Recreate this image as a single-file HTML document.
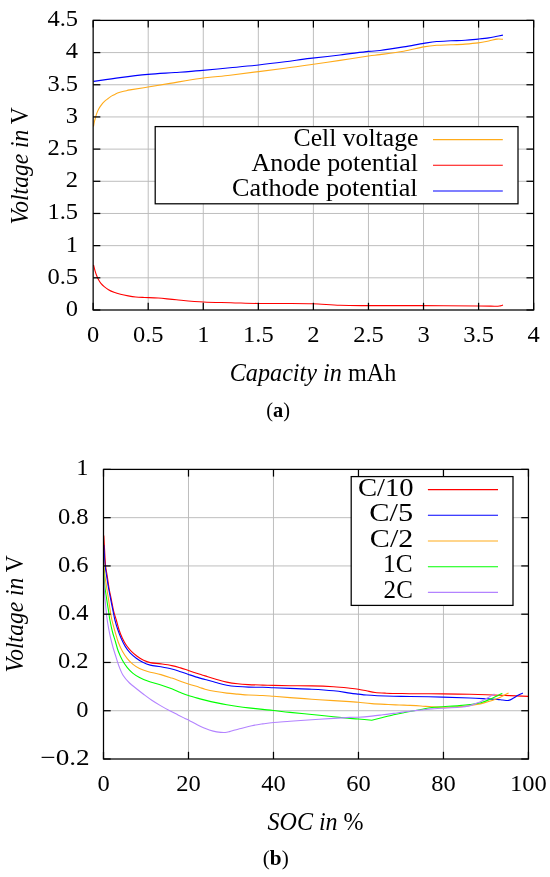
<!DOCTYPE html>
<html><head><meta charset="utf-8"><style>
html,body{margin:0;padding:0;background:#fff;width:550px;height:877px;overflow:hidden}
svg{display:block;font-family:'Liberation Serif',serif;will-change:transform}
text{fill:#000}
</style></head><body>
<svg width="550" height="877" viewBox="0 0 550 877" font-family="'Liberation Serif', serif">
<rect width="550" height="877" fill="#fff"/>
<line x1="148.21" y1="20.40" x2="148.21" y2="310.00" stroke="#bababa" stroke-width="0.95"/>
<line x1="203.28" y1="20.40" x2="203.28" y2="310.00" stroke="#bababa" stroke-width="0.95"/>
<line x1="258.34" y1="20.40" x2="258.34" y2="310.00" stroke="#bababa" stroke-width="0.95"/>
<line x1="313.40" y1="20.40" x2="313.40" y2="310.00" stroke="#bababa" stroke-width="0.95"/>
<line x1="368.46" y1="20.40" x2="368.46" y2="310.00" stroke="#bababa" stroke-width="0.95"/>
<line x1="423.52" y1="20.40" x2="423.52" y2="310.00" stroke="#bababa" stroke-width="0.95"/>
<line x1="478.59" y1="20.40" x2="478.59" y2="310.00" stroke="#bababa" stroke-width="0.95"/>
<line x1="93.15" y1="277.82" x2="533.65" y2="277.82" stroke="#bababa" stroke-width="0.95"/>
<line x1="93.15" y1="245.64" x2="533.65" y2="245.64" stroke="#bababa" stroke-width="0.95"/>
<line x1="93.15" y1="213.47" x2="533.65" y2="213.47" stroke="#bababa" stroke-width="0.95"/>
<line x1="93.15" y1="181.29" x2="533.65" y2="181.29" stroke="#bababa" stroke-width="0.95"/>
<line x1="93.15" y1="149.11" x2="533.65" y2="149.11" stroke="#bababa" stroke-width="0.95"/>
<line x1="93.15" y1="116.93" x2="533.65" y2="116.93" stroke="#bababa" stroke-width="0.95"/>
<line x1="93.15" y1="84.76" x2="533.65" y2="84.76" stroke="#bababa" stroke-width="0.95"/>
<line x1="93.15" y1="52.58" x2="533.65" y2="52.58" stroke="#bababa" stroke-width="0.95"/>
<path d="M93.50,81.40 C97.92,80.77 110.92,78.77 120.00,77.60 C129.08,76.43 138.83,75.25 148.00,74.40 C157.17,73.55 166.33,73.13 175.00,72.50 C183.67,71.87 190.83,71.38 200.00,70.60 C209.17,69.82 220.23,68.73 230.00,67.80 C239.77,66.87 249.43,66.00 258.60,65.00 C267.77,64.00 276.43,62.90 285.00,61.80 C293.57,60.70 300.83,59.53 310.00,58.40 C319.17,57.27 330.27,56.17 340.00,55.00 C349.73,53.83 361.73,52.15 368.40,51.40 C375.07,50.65 374.13,51.25 380.00,50.50 C385.87,49.75 396.32,48.08 403.60,46.90 C410.88,45.72 418.18,44.30 423.70,43.40 C429.22,42.50 432.17,41.93 436.70,41.50 C441.23,41.07 446.17,41.00 450.90,40.80 C455.63,40.60 460.57,40.58 465.10,40.30 C469.63,40.02 474.17,39.50 478.10,39.10 C482.03,38.70 485.75,38.33 488.70,37.90 C491.65,37.47 493.43,36.97 495.80,36.50 C498.17,36.03 501.72,35.33 502.90,35.10" fill="none" stroke="#0000ff" stroke-width="1.1"/>
<path d="M93.50,126.50 C93.63,125.75 94.03,123.22 94.30,122.00 C94.57,120.78 94.73,120.52 95.10,119.20 C95.47,117.88 95.90,115.80 96.50,114.10 C97.10,112.40 97.85,110.58 98.70,109.00 C99.55,107.42 100.63,105.87 101.60,104.60 C102.57,103.33 103.40,102.42 104.50,101.40 C105.60,100.38 106.98,99.42 108.20,98.50 C109.42,97.58 110.58,96.63 111.80,95.90 C113.02,95.17 114.28,94.65 115.50,94.10 C116.72,93.55 117.90,93.03 119.10,92.60 C120.30,92.17 121.48,91.82 122.70,91.50 C123.92,91.18 125.18,90.97 126.40,90.70 C127.62,90.43 126.40,90.52 130.00,89.90 C133.60,89.28 141.33,88.08 148.00,87.00 C154.67,85.92 161.33,84.82 170.00,83.40 C178.67,81.98 190.00,79.87 200.00,78.50 C210.00,77.13 220.23,76.35 230.00,75.20 C239.77,74.05 249.43,72.75 258.60,71.60 C267.77,70.45 276.43,69.45 285.00,68.30 C293.57,67.15 300.83,66.02 310.00,64.70 C319.17,63.38 330.27,61.85 340.00,60.40 C349.73,58.95 361.73,56.97 368.40,56.00 C375.07,55.03 374.13,55.40 380.00,54.60 C385.87,53.80 396.32,52.48 403.60,51.20 C410.88,49.92 418.18,47.88 423.70,46.90 C429.22,45.92 432.17,45.65 436.70,45.30 C441.23,44.95 446.17,45.00 450.90,44.80 C455.63,44.60 460.57,44.42 465.10,44.10 C469.63,43.78 474.17,43.42 478.10,42.90 C482.03,42.38 485.55,41.63 488.70,41.00 C491.85,40.37 494.62,39.38 497.00,39.10 C499.38,38.82 502.00,39.27 503.00,39.30" fill="none" stroke="#ffab1a" stroke-width="1.1"/>
<path d="M93.50,264.80 C93.73,265.72 94.40,268.57 94.90,270.30 C95.40,272.03 95.87,273.57 96.50,275.20 C97.13,276.83 97.97,278.73 98.70,280.10 C99.43,281.47 99.98,282.32 100.90,283.40 C101.82,284.48 102.93,285.55 104.20,286.60 C105.47,287.65 106.87,288.75 108.50,289.70 C110.13,290.65 112.00,291.53 114.00,292.30 C116.00,293.07 118.13,293.70 120.50,294.30 C122.87,294.90 125.65,295.45 128.20,295.90 C130.75,296.35 133.08,296.73 135.80,297.00 C138.52,297.27 140.77,297.33 144.50,297.50 C148.23,297.67 152.88,297.62 158.20,298.00 C163.52,298.38 168.83,299.13 176.40,299.80 C183.97,300.47 194.52,301.52 203.60,302.00 C212.68,302.48 221.80,302.45 230.90,302.70 C240.00,302.95 249.10,303.37 258.20,303.50 C267.30,303.63 276.42,303.45 285.50,303.50 C294.58,303.55 303.62,303.50 312.70,303.80 C321.78,304.10 330.68,305.00 340.00,305.30 C349.32,305.60 355.27,305.55 368.60,305.60 C381.93,305.65 401.67,305.53 420.00,305.60 C438.33,305.67 466.10,305.90 478.60,306.00 C491.10,306.10 491.43,306.22 495.00,306.20 C498.57,306.18 498.67,306.10 500.00,305.90 C501.33,305.70 502.50,305.15 503.00,305.00" fill="none" stroke="#ff0000" stroke-width="1.1"/>
<line x1="93.15" y1="310.00" x2="93.15" y2="302.80" stroke="#000" stroke-width="1.25"/>
<line x1="93.15" y1="20.40" x2="93.15" y2="27.60" stroke="#000" stroke-width="1.25"/>
<line x1="148.21" y1="310.00" x2="148.21" y2="302.80" stroke="#000" stroke-width="1.25"/>
<line x1="148.21" y1="20.40" x2="148.21" y2="27.60" stroke="#000" stroke-width="1.25"/>
<line x1="203.28" y1="310.00" x2="203.28" y2="302.80" stroke="#000" stroke-width="1.25"/>
<line x1="203.28" y1="20.40" x2="203.28" y2="27.60" stroke="#000" stroke-width="1.25"/>
<line x1="258.34" y1="310.00" x2="258.34" y2="302.80" stroke="#000" stroke-width="1.25"/>
<line x1="258.34" y1="20.40" x2="258.34" y2="27.60" stroke="#000" stroke-width="1.25"/>
<line x1="313.40" y1="310.00" x2="313.40" y2="302.80" stroke="#000" stroke-width="1.25"/>
<line x1="313.40" y1="20.40" x2="313.40" y2="27.60" stroke="#000" stroke-width="1.25"/>
<line x1="368.46" y1="310.00" x2="368.46" y2="302.80" stroke="#000" stroke-width="1.25"/>
<line x1="368.46" y1="20.40" x2="368.46" y2="27.60" stroke="#000" stroke-width="1.25"/>
<line x1="423.52" y1="310.00" x2="423.52" y2="302.80" stroke="#000" stroke-width="1.25"/>
<line x1="423.52" y1="20.40" x2="423.52" y2="27.60" stroke="#000" stroke-width="1.25"/>
<line x1="478.59" y1="310.00" x2="478.59" y2="302.80" stroke="#000" stroke-width="1.25"/>
<line x1="478.59" y1="20.40" x2="478.59" y2="27.60" stroke="#000" stroke-width="1.25"/>
<line x1="533.65" y1="310.00" x2="533.65" y2="302.80" stroke="#000" stroke-width="1.25"/>
<line x1="533.65" y1="20.40" x2="533.65" y2="27.60" stroke="#000" stroke-width="1.25"/>
<line x1="93.15" y1="310.00" x2="100.35" y2="310.00" stroke="#000" stroke-width="1.25"/>
<line x1="533.65" y1="310.00" x2="526.45" y2="310.00" stroke="#000" stroke-width="1.25"/>
<line x1="93.15" y1="277.82" x2="100.35" y2="277.82" stroke="#000" stroke-width="1.25"/>
<line x1="533.65" y1="277.82" x2="526.45" y2="277.82" stroke="#000" stroke-width="1.25"/>
<line x1="93.15" y1="245.64" x2="100.35" y2="245.64" stroke="#000" stroke-width="1.25"/>
<line x1="533.65" y1="245.64" x2="526.45" y2="245.64" stroke="#000" stroke-width="1.25"/>
<line x1="93.15" y1="213.47" x2="100.35" y2="213.47" stroke="#000" stroke-width="1.25"/>
<line x1="533.65" y1="213.47" x2="526.45" y2="213.47" stroke="#000" stroke-width="1.25"/>
<line x1="93.15" y1="181.29" x2="100.35" y2="181.29" stroke="#000" stroke-width="1.25"/>
<line x1="533.65" y1="181.29" x2="526.45" y2="181.29" stroke="#000" stroke-width="1.25"/>
<line x1="93.15" y1="149.11" x2="100.35" y2="149.11" stroke="#000" stroke-width="1.25"/>
<line x1="533.65" y1="149.11" x2="526.45" y2="149.11" stroke="#000" stroke-width="1.25"/>
<line x1="93.15" y1="116.93" x2="100.35" y2="116.93" stroke="#000" stroke-width="1.25"/>
<line x1="533.65" y1="116.93" x2="526.45" y2="116.93" stroke="#000" stroke-width="1.25"/>
<line x1="93.15" y1="84.76" x2="100.35" y2="84.76" stroke="#000" stroke-width="1.25"/>
<line x1="533.65" y1="84.76" x2="526.45" y2="84.76" stroke="#000" stroke-width="1.25"/>
<line x1="93.15" y1="52.58" x2="100.35" y2="52.58" stroke="#000" stroke-width="1.25"/>
<line x1="533.65" y1="52.58" x2="526.45" y2="52.58" stroke="#000" stroke-width="1.25"/>
<line x1="93.15" y1="20.40" x2="100.35" y2="20.40" stroke="#000" stroke-width="1.25"/>
<line x1="533.65" y1="20.40" x2="526.45" y2="20.40" stroke="#000" stroke-width="1.25"/>
<rect x="93.15" y="20.40" width="440.50" height="289.60" fill="none" stroke="#000" stroke-width="1.25"/>
<rect x="155.2" y="126.6" width="362.8" height="77.2" fill="#fff" stroke="#000" stroke-width="1.25"/>
<text x="418.45" y="145.60" font-size="24.2" text-anchor="end" textLength="124.96" lengthAdjust="spacingAndGlyphs" >Cell voltage</text>
<line x1="433" y1="139.60" x2="502.8" y2="139.60" stroke="#ffab1a" stroke-width="1.1"/>
<text x="417.95" y="170.80" font-size="24.2" text-anchor="end" textLength="166.48" lengthAdjust="spacingAndGlyphs" >Anode potential</text>
<line x1="433" y1="165.30" x2="502.8" y2="165.30" stroke="#ff0000" stroke-width="1.1"/>
<text x="417.55" y="196.40" font-size="24.2" text-anchor="end" textLength="185.50" lengthAdjust="spacingAndGlyphs" >Cathode potential</text>
<line x1="433" y1="191.00" x2="502.8" y2="191.00" stroke="#0000ff" stroke-width="1.1"/>
<text transform="translate(78.00,315.90) scale(1.0560,1)" font-size="23.2" text-anchor="end">0</text>
<text transform="translate(78.00,283.72) scale(1.0560,1)" font-size="23.2" text-anchor="end">0.5</text>
<text transform="translate(78.00,251.54) scale(1.0560,1)" font-size="23.2" text-anchor="end">1</text>
<text transform="translate(78.00,219.37) scale(1.0560,1)" font-size="23.2" text-anchor="end">1.5</text>
<text transform="translate(78.00,187.19) scale(1.0560,1)" font-size="23.2" text-anchor="end">2</text>
<text transform="translate(78.00,155.01) scale(1.0560,1)" font-size="23.2" text-anchor="end">2.5</text>
<text transform="translate(78.00,122.83) scale(1.0560,1)" font-size="23.2" text-anchor="end">3</text>
<text transform="translate(78.00,90.66) scale(1.0560,1)" font-size="23.2" text-anchor="end">3.5</text>
<text transform="translate(78.00,58.48) scale(1.0560,1)" font-size="23.2" text-anchor="end">4</text>
<text transform="translate(78.00,26.30) scale(1.0560,1)" font-size="23.2" text-anchor="end">4.5</text>
<text transform="translate(93.15,341.50) scale(1.0560,1)" font-size="23.2" text-anchor="middle">0</text>
<text transform="translate(148.21,341.50) scale(1.0560,1)" font-size="23.2" text-anchor="middle">0.5</text>
<text transform="translate(203.28,341.50) scale(1.0560,1)" font-size="23.2" text-anchor="middle">1</text>
<text transform="translate(258.34,341.50) scale(1.0560,1)" font-size="23.2" text-anchor="middle">1.5</text>
<text transform="translate(313.40,341.50) scale(1.0560,1)" font-size="23.2" text-anchor="middle">2</text>
<text transform="translate(368.46,341.50) scale(1.0560,1)" font-size="23.2" text-anchor="middle">2.5</text>
<text transform="translate(423.52,341.50) scale(1.0560,1)" font-size="23.2" text-anchor="middle">3</text>
<text transform="translate(478.59,341.50) scale(1.0560,1)" font-size="23.2" text-anchor="middle">3.5</text>
<text transform="translate(533.65,341.50) scale(1.0560,1)" font-size="23.2" text-anchor="middle">4</text>
<text x="229.75" y="381.20" font-size="24.2" text-anchor="start" textLength="166.51" lengthAdjust="spacingAndGlyphs" ><tspan font-style="italic">Capacity in</tspan> mAh</text>
<text transform="translate(28.10,165.90) rotate(-90)" x="0" y="0" font-size="24.2" text-anchor="middle" textLength="117.06" lengthAdjust="spacingAndGlyphs" ><tspan font-style="italic">Voltage in</tspan> V</text>
<text x="278.05" y="417.20" font-size="22" text-anchor="middle" textLength="23.76" lengthAdjust="spacingAndGlyphs" >(<tspan font-weight="bold">a</tspan>)</text>
<line x1="188.49" y1="469.40" x2="188.49" y2="759.00" stroke="#bababa" stroke-width="0.95"/>
<line x1="273.48" y1="469.40" x2="273.48" y2="759.00" stroke="#bababa" stroke-width="0.95"/>
<line x1="358.47" y1="469.40" x2="358.47" y2="759.00" stroke="#bababa" stroke-width="0.95"/>
<line x1="443.46" y1="469.40" x2="443.46" y2="759.00" stroke="#bababa" stroke-width="0.95"/>
<line x1="103.50" y1="710.73" x2="528.45" y2="710.73" stroke="#bababa" stroke-width="0.95"/>
<line x1="103.50" y1="662.47" x2="528.45" y2="662.47" stroke="#bababa" stroke-width="0.95"/>
<line x1="103.50" y1="614.20" x2="528.45" y2="614.20" stroke="#bababa" stroke-width="0.95"/>
<line x1="103.50" y1="565.93" x2="528.45" y2="565.93" stroke="#bababa" stroke-width="0.95"/>
<line x1="103.50" y1="517.67" x2="528.45" y2="517.67" stroke="#bababa" stroke-width="0.95"/>
<defs><clipPath id="c2"><rect x="103.5" y="469.4" width="424.95000000000005" height="289.6"/></clipPath></defs>
<g clip-path="url(#c2)">
<path d="M103.80,535.50 C103.93,537.92 104.30,544.97 104.60,550.00 C104.90,555.03 105.13,561.18 105.60,565.70 C106.07,570.22 106.82,573.30 107.40,577.10 C107.98,580.90 108.43,584.70 109.10,588.50 C109.77,592.30 110.63,596.10 111.40,599.90 C112.17,603.70 112.88,607.95 113.70,611.30 C114.52,614.65 115.40,616.88 116.30,620.00 C117.20,623.12 118.08,626.97 119.10,630.00 C120.12,633.03 121.17,635.62 122.40,638.20 C123.63,640.78 125.00,643.32 126.50,645.50 C128.00,647.68 129.63,649.52 131.40,651.30 C133.17,653.08 135.07,654.70 137.10,656.20 C139.13,657.70 141.42,659.23 143.60,660.30 C145.78,661.37 147.32,662.00 150.20,662.60 C153.08,663.20 157.30,663.40 160.90,663.90 C164.50,664.40 168.53,664.93 171.80,665.60 C175.07,666.27 177.73,667.08 180.50,667.90 C183.27,668.72 185.30,669.47 188.40,670.50 C191.50,671.53 196.33,673.20 199.10,674.10 C201.87,675.00 202.20,675.05 205.00,675.90 C207.80,676.75 212.27,678.17 215.90,679.20 C219.53,680.23 223.17,681.33 226.80,682.10 C230.43,682.87 234.07,683.38 237.70,683.80 C241.33,684.22 244.43,684.38 248.60,684.60 C252.77,684.82 258.53,684.97 262.70,685.10 C266.87,685.23 269.05,685.30 273.60,685.40 C278.15,685.50 283.63,685.62 290.00,685.70 C296.37,685.78 304.53,685.72 311.80,685.90 C319.07,686.08 327.23,686.42 333.60,686.80 C339.97,687.18 345.87,687.80 350.00,688.20 C354.13,688.60 355.67,688.77 358.40,689.20 C361.13,689.63 363.62,690.25 366.40,690.80 C369.18,691.35 371.83,692.10 375.10,692.50 C378.37,692.90 382.00,693.03 386.00,693.20 C390.00,693.37 395.10,693.42 399.10,693.50 C403.10,693.58 402.73,693.63 410.00,693.70 C417.27,693.77 432.70,693.80 442.70,693.90 C452.70,694.00 460.45,694.08 470.00,694.30 C479.55,694.52 490.27,694.85 500.00,695.20 C509.73,695.55 523.67,696.20 528.40,696.40" fill="none" stroke="#ff0000" stroke-width="1.1"/>
<path d="M103.80,545.00 C103.93,547.50 104.38,556.55 104.60,560.00 C104.82,563.45 104.73,562.85 105.10,565.70 C105.47,568.55 106.22,573.30 106.80,577.10 C107.38,580.90 107.93,584.70 108.60,588.50 C109.27,592.30 110.05,596.10 110.80,599.90 C111.55,603.70 112.42,607.95 113.10,611.30 C113.78,614.65 114.10,616.88 114.90,620.00 C115.70,623.12 116.87,626.97 117.90,630.00 C118.93,633.03 119.88,635.47 121.10,638.20 C122.32,640.93 123.70,643.95 125.20,646.40 C126.70,648.85 128.25,650.93 130.10,652.90 C131.95,654.87 134.18,656.63 136.30,658.20 C138.42,659.77 140.48,661.15 142.80,662.30 C145.12,663.45 147.18,664.35 150.20,665.10 C153.22,665.85 157.30,666.15 160.90,666.80 C164.50,667.45 168.53,668.18 171.80,669.00 C175.07,669.82 177.73,670.80 180.50,671.70 C183.27,672.60 185.30,673.37 188.40,674.40 C191.50,675.43 196.33,677.05 199.10,677.90 C201.87,678.75 202.20,678.73 205.00,679.50 C207.80,680.27 212.27,681.55 215.90,682.50 C219.53,683.45 223.17,684.53 226.80,685.20 C230.43,685.87 234.07,686.18 237.70,686.50 C241.33,686.82 244.43,686.97 248.60,687.10 C252.77,687.23 258.53,687.18 262.70,687.30 C266.87,687.42 269.05,687.62 273.60,687.80 C278.15,687.98 283.63,688.17 290.00,688.40 C296.37,688.63 304.53,688.80 311.80,689.20 C319.07,689.60 327.23,690.15 333.60,690.80 C339.97,691.45 345.87,692.55 350.00,693.10 C354.13,693.65 355.67,693.78 358.40,694.10 C361.13,694.42 363.25,694.73 366.40,695.00 C369.55,695.27 372.77,695.48 377.30,695.70 C381.83,695.92 388.15,696.17 393.60,696.30 C399.05,696.43 401.82,696.37 410.00,696.50 C418.18,696.63 432.70,696.85 442.70,697.10 C452.70,697.35 462.72,697.72 470.00,698.00 C477.28,698.28 481.85,698.57 486.40,698.80 C490.95,699.03 494.58,699.20 497.30,699.40 C500.02,699.60 500.80,699.83 502.70,700.00 C504.60,700.17 506.88,700.73 508.70,700.40 C510.52,700.07 512.05,698.85 513.60,698.00 C515.15,697.15 516.45,696.12 518.00,695.30 C519.55,694.48 522.08,693.47 522.90,693.10" fill="none" stroke="#0000ff" stroke-width="1.1"/>
<path d="M103.50,555.00 C103.58,556.78 103.73,562.02 104.00,565.70 C104.27,569.38 104.63,573.30 105.10,577.10 C105.57,580.90 106.22,584.70 106.80,588.50 C107.38,592.30 108.02,596.10 108.60,599.90 C109.18,603.70 109.75,607.95 110.30,611.30 C110.85,614.65 111.12,616.63 111.90,620.00 C112.68,623.37 113.93,627.78 115.00,631.50 C116.07,635.22 117.07,639.00 118.30,642.30 C119.53,645.60 120.90,648.58 122.40,651.30 C123.90,654.02 125.53,656.42 127.30,658.60 C129.07,660.78 130.97,662.75 133.00,664.40 C135.03,666.05 137.05,667.32 139.50,668.50 C141.95,669.68 144.13,670.48 147.70,671.50 C151.27,672.52 156.88,673.50 160.90,674.60 C164.92,675.70 168.53,677.00 171.80,678.10 C175.07,679.20 177.73,680.23 180.50,681.20 C183.27,682.17 185.30,682.90 188.40,683.90 C191.50,684.90 196.33,686.32 199.10,687.20 C201.87,688.08 202.20,688.48 205.00,689.20 C207.80,689.92 212.27,690.85 215.90,691.50 C219.53,692.15 223.17,692.67 226.80,693.10 C230.43,693.53 234.07,693.78 237.70,694.10 C241.33,694.42 244.43,694.77 248.60,695.00 C252.77,695.23 258.53,695.28 262.70,695.50 C266.87,695.72 269.05,695.95 273.60,696.30 C278.15,696.65 283.63,697.12 290.00,697.60 C296.37,698.08 304.53,698.70 311.80,699.20 C319.07,699.70 327.23,700.20 333.60,700.60 C339.97,701.00 345.87,701.32 350.00,701.60 C354.13,701.88 354.77,701.97 358.40,702.30 C362.03,702.63 366.83,703.23 371.80,703.60 C376.77,703.97 383.65,704.27 388.20,704.50 C392.75,704.73 395.47,704.85 399.10,705.00 C402.73,705.15 406.37,705.23 410.00,705.40 C413.63,705.57 417.27,705.75 420.90,706.00 C424.53,706.25 428.17,706.70 431.80,706.90 C435.43,707.10 438.83,707.18 442.70,707.20 C446.57,707.22 450.78,707.22 455.00,707.00 C459.22,706.78 464.33,706.32 468.00,705.90 C471.67,705.48 474.33,705.00 477.00,704.50 C479.67,704.00 481.47,703.57 484.00,702.90 C486.53,702.23 489.47,701.43 492.20,700.50 C494.93,699.57 497.67,698.57 500.40,697.30 C503.13,696.03 507.23,693.63 508.60,692.90" fill="none" stroke="#ffab1a" stroke-width="1.1"/>
<path d="M103.50,565.00 C103.58,567.02 103.73,573.18 104.00,577.10 C104.27,581.02 104.63,584.70 105.10,588.50 C105.57,592.30 106.22,596.10 106.80,599.90 C107.38,603.70 108.08,607.95 108.60,611.30 C109.12,614.65 109.25,616.55 109.90,620.00 C110.55,623.45 111.58,628.42 112.50,632.00 C113.42,635.58 114.43,638.28 115.40,641.50 C116.37,644.72 117.13,648.17 118.30,651.30 C119.47,654.43 120.90,657.58 122.40,660.30 C123.90,663.02 125.53,665.42 127.30,667.60 C129.07,669.78 130.97,671.75 133.00,673.40 C135.03,675.05 137.05,676.22 139.50,677.50 C141.95,678.78 144.13,679.85 147.70,681.10 C151.27,682.35 156.88,683.72 160.90,685.00 C164.92,686.28 168.53,687.53 171.80,688.80 C175.07,690.07 177.73,691.47 180.50,692.60 C183.27,693.73 185.30,694.60 188.40,695.60 C191.50,696.60 196.33,697.85 199.10,698.60 C201.87,699.35 202.20,699.43 205.00,700.10 C207.80,700.77 212.27,701.82 215.90,702.60 C219.53,703.38 223.17,704.15 226.80,704.80 C230.43,705.45 234.07,705.98 237.70,706.50 C241.33,707.02 244.43,707.42 248.60,707.90 C252.77,708.38 258.53,708.97 262.70,709.40 C266.87,709.83 269.05,710.00 273.60,710.50 C278.15,711.00 283.63,711.73 290.00,712.40 C296.37,713.07 304.53,713.78 311.80,714.50 C319.07,715.22 328.15,716.13 333.60,716.70 C339.05,717.27 341.77,717.62 344.50,717.90 C347.23,718.18 347.68,718.22 350.00,718.40 C352.32,718.58 354.77,718.68 358.40,719.00 C362.03,719.32 369.57,720.08 371.80,720.30 L371.80,720.30 C373.62,719.83 379.07,718.42 382.70,717.50 C386.33,716.58 390.32,715.55 393.60,714.80 C396.88,714.05 399.67,713.55 402.40,713.00 C405.13,712.45 406.92,712.08 410.00,711.50 C413.08,710.92 417.27,710.17 420.90,709.50 C424.53,708.83 428.17,707.97 431.80,707.50 C435.43,707.03 438.15,707.02 442.70,706.70 C447.25,706.38 454.55,705.97 459.10,705.60 C463.65,705.23 466.37,704.98 470.00,704.50 C473.63,704.02 477.27,703.70 480.90,702.70 C484.53,701.70 488.23,700.08 491.80,698.50 C495.37,696.92 500.55,694.08 502.30,693.20" fill="none" stroke="#00ff00" stroke-width="1.1"/>
<path d="M103.50,575.00 C103.58,576.30 103.82,579.60 104.00,582.80 C104.18,586.00 104.32,590.40 104.60,594.20 C104.88,598.00 105.33,601.80 105.70,605.60 C106.07,609.40 106.32,613.20 106.80,617.00 C107.28,620.80 107.97,624.90 108.60,628.40 C109.23,631.90 109.83,634.73 110.60,638.00 C111.37,641.27 112.40,645.17 113.20,648.00 C114.00,650.83 114.42,651.92 115.40,655.00 C116.38,658.08 117.80,663.08 119.10,666.50 C120.40,669.92 121.47,672.75 123.20,675.50 C124.93,678.25 127.28,680.80 129.50,683.00 C131.72,685.20 134.05,686.75 136.50,688.70 C138.95,690.65 141.65,692.78 144.20,694.70 C146.75,696.62 149.08,698.38 151.80,700.20 C154.52,702.02 157.58,703.88 160.50,705.60 C163.42,707.32 166.38,708.95 169.30,710.50 C172.22,712.05 175.47,713.62 178.00,714.90 C180.53,716.18 182.50,717.20 184.50,718.20 C186.50,719.20 187.95,719.85 190.00,720.90 C192.05,721.95 194.22,723.22 196.80,724.50 C199.38,725.78 202.77,727.50 205.50,728.60 C208.23,729.70 210.65,730.47 213.20,731.10 C215.75,731.73 218.80,732.17 220.80,732.40 C222.80,732.63 223.75,732.63 225.20,732.50 C226.65,732.37 227.87,732.02 229.50,731.60 C231.13,731.18 233.10,730.52 235.00,730.00 C236.90,729.48 238.10,729.22 240.90,728.50 C243.70,727.78 248.17,726.47 251.80,725.70 C255.43,724.93 259.07,724.43 262.70,723.90 C266.33,723.37 269.05,722.93 273.60,722.50 C278.15,722.07 283.63,721.77 290.00,721.30 C296.37,720.83 304.53,720.18 311.80,719.70 C319.07,719.22 327.23,718.78 333.60,718.40 C339.97,718.02 345.87,717.60 350.00,717.40 C354.13,717.20 354.77,717.42 358.40,717.20 C362.03,716.98 367.75,716.50 371.80,716.10 C375.85,715.70 379.07,715.25 382.70,714.80 C386.33,714.35 390.32,713.85 393.60,713.40 C396.88,712.95 399.67,712.47 402.40,712.10 C405.13,711.73 406.92,711.55 410.00,711.20 C413.08,710.85 417.27,710.38 420.90,710.00 C424.53,709.62 428.17,709.18 431.80,708.90 C435.43,708.62 438.15,708.57 442.70,708.30 C447.25,708.03 454.55,707.75 459.10,707.30 C463.65,706.85 466.73,706.42 470.00,705.60 C473.27,704.78 475.97,703.58 478.70,702.40 C481.43,701.22 483.77,699.90 486.40,698.50 C489.03,697.10 493.15,694.75 494.50,694.00" fill="none" stroke="#b383ff" stroke-width="1.1"/>
</g>
<line x1="103.50" y1="759.00" x2="103.50" y2="751.80" stroke="#000" stroke-width="1.25"/>
<line x1="103.50" y1="469.40" x2="103.50" y2="476.60" stroke="#000" stroke-width="1.25"/>
<line x1="188.49" y1="759.00" x2="188.49" y2="751.80" stroke="#000" stroke-width="1.25"/>
<line x1="188.49" y1="469.40" x2="188.49" y2="476.60" stroke="#000" stroke-width="1.25"/>
<line x1="273.48" y1="759.00" x2="273.48" y2="751.80" stroke="#000" stroke-width="1.25"/>
<line x1="273.48" y1="469.40" x2="273.48" y2="476.60" stroke="#000" stroke-width="1.25"/>
<line x1="358.47" y1="759.00" x2="358.47" y2="751.80" stroke="#000" stroke-width="1.25"/>
<line x1="358.47" y1="469.40" x2="358.47" y2="476.60" stroke="#000" stroke-width="1.25"/>
<line x1="443.46" y1="759.00" x2="443.46" y2="751.80" stroke="#000" stroke-width="1.25"/>
<line x1="443.46" y1="469.40" x2="443.46" y2="476.60" stroke="#000" stroke-width="1.25"/>
<line x1="528.45" y1="759.00" x2="528.45" y2="751.80" stroke="#000" stroke-width="1.25"/>
<line x1="528.45" y1="469.40" x2="528.45" y2="476.60" stroke="#000" stroke-width="1.25"/>
<line x1="103.50" y1="759.00" x2="110.70" y2="759.00" stroke="#000" stroke-width="1.25"/>
<line x1="528.45" y1="759.00" x2="521.25" y2="759.00" stroke="#000" stroke-width="1.25"/>
<line x1="103.50" y1="710.73" x2="110.70" y2="710.73" stroke="#000" stroke-width="1.25"/>
<line x1="528.45" y1="710.73" x2="521.25" y2="710.73" stroke="#000" stroke-width="1.25"/>
<line x1="103.50" y1="662.47" x2="110.70" y2="662.47" stroke="#000" stroke-width="1.25"/>
<line x1="528.45" y1="662.47" x2="521.25" y2="662.47" stroke="#000" stroke-width="1.25"/>
<line x1="103.50" y1="614.20" x2="110.70" y2="614.20" stroke="#000" stroke-width="1.25"/>
<line x1="528.45" y1="614.20" x2="521.25" y2="614.20" stroke="#000" stroke-width="1.25"/>
<line x1="103.50" y1="565.93" x2="110.70" y2="565.93" stroke="#000" stroke-width="1.25"/>
<line x1="528.45" y1="565.93" x2="521.25" y2="565.93" stroke="#000" stroke-width="1.25"/>
<line x1="103.50" y1="517.67" x2="110.70" y2="517.67" stroke="#000" stroke-width="1.25"/>
<line x1="528.45" y1="517.67" x2="521.25" y2="517.67" stroke="#000" stroke-width="1.25"/>
<line x1="103.50" y1="469.40" x2="110.70" y2="469.40" stroke="#000" stroke-width="1.25"/>
<line x1="528.45" y1="469.40" x2="521.25" y2="469.40" stroke="#000" stroke-width="1.25"/>
<rect x="103.50" y="469.40" width="424.95" height="289.60" fill="none" stroke="#000" stroke-width="1.25"/>
<rect x="351.2" y="476.6" width="161.8" height="128.8" fill="#fff" stroke="#000" stroke-width="1.25"/>
<text x="413.65" y="495.60" font-size="24.2" text-anchor="end" textLength="55.72" lengthAdjust="spacingAndGlyphs" >C/10</text>
<line x1="427.9" y1="489.60" x2="498" y2="489.60" stroke="#ff0000" stroke-width="1.1"/>
<text x="413.10" y="521.20" font-size="24.2" text-anchor="end" textLength="43.85" lengthAdjust="spacingAndGlyphs" >C/5</text>
<line x1="427.9" y1="515.30" x2="498" y2="515.30" stroke="#0000ff" stroke-width="1.1"/>
<text x="413.30" y="546.80" font-size="24.2" text-anchor="end" textLength="43.43" lengthAdjust="spacingAndGlyphs" >C/2</text>
<line x1="427.9" y1="541.00" x2="498" y2="541.00" stroke="#ffab1a" stroke-width="1.1"/>
<text x="412.70" y="572.40" font-size="24.2" text-anchor="end" textLength="29.59" lengthAdjust="spacingAndGlyphs" >1C</text>
<line x1="427.9" y1="566.70" x2="498" y2="566.70" stroke="#00ff00" stroke-width="1.1"/>
<text x="412.85" y="598.00" font-size="24.2" text-anchor="end" textLength="29.21" lengthAdjust="spacingAndGlyphs" >2C</text>
<line x1="427.9" y1="592.40" x2="498" y2="592.40" stroke="#b383ff" stroke-width="1.1"/>
<text x="89.70" y="764.90" font-size="23.2" text-anchor="end" textLength="49.40" lengthAdjust="spacingAndGlyphs" >−0.2</text>
<text transform="translate(88.50,716.63) scale(1.0560,1)" font-size="23.2" text-anchor="end">0</text>
<text transform="translate(88.50,668.37) scale(1.0560,1)" font-size="23.2" text-anchor="end">0.2</text>
<text transform="translate(88.50,620.10) scale(1.0560,1)" font-size="23.2" text-anchor="end">0.4</text>
<text transform="translate(88.50,571.83) scale(1.0560,1)" font-size="23.2" text-anchor="end">0.6</text>
<text transform="translate(88.50,523.57) scale(1.0560,1)" font-size="23.2" text-anchor="end">0.8</text>
<text transform="translate(88.50,475.30) scale(1.0560,1)" font-size="23.2" text-anchor="end">1</text>
<text transform="translate(103.50,790.50) scale(1.0560,1)" font-size="23.2" text-anchor="middle">0</text>
<text transform="translate(188.49,790.50) scale(1.0560,1)" font-size="23.2" text-anchor="middle">20</text>
<text transform="translate(273.48,790.50) scale(1.0560,1)" font-size="23.2" text-anchor="middle">40</text>
<text transform="translate(358.47,790.50) scale(1.0560,1)" font-size="23.2" text-anchor="middle">60</text>
<text transform="translate(443.46,790.50) scale(1.0560,1)" font-size="23.2" text-anchor="middle">80</text>
<text transform="translate(528.45,790.50) scale(1.0560,1)" font-size="23.2" text-anchor="middle">100</text>
<text x="267.55" y="829.50" font-size="24.2" text-anchor="start" textLength="96.06" lengthAdjust="spacingAndGlyphs" ><tspan font-style="italic">SOC in</tspan> %</text>
<text transform="translate(23.00,613.90) rotate(-90)" x="0" y="0" font-size="24.2" text-anchor="middle" textLength="117.06" lengthAdjust="spacingAndGlyphs" ><tspan font-style="italic">Voltage in</tspan> V</text>
<text x="275.75" y="865.30" font-size="22" text-anchor="middle" textLength="25.94" lengthAdjust="spacingAndGlyphs" >(<tspan font-weight="bold">b</tspan>)</text>
</svg>
</body></html>
